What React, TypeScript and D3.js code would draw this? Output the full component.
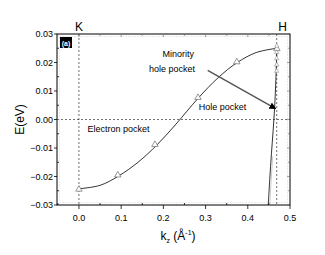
import { useEffect, useRef } from 'react';
import * as d3 from 'd3';

// electron band, measured points (triangles)
const markerK = [0.0, 0.092, 0.18, 0.282, 0.374, 0.469];
const markerE = [-0.0245, -0.0195, -0.0088, 0.0077, 0.0202, 0.0248];

// electron band, fitted curve
const curveK = [0.0, 0.05, 0.093, 0.14, 0.185, 0.23, 0.282, 0.33, 0.374, 0.42, 0.469];
const curveE = [-0.0243, -0.0231, -0.0199, -0.015, -0.0089, -0.0016, 0.0074, 0.0147, 0.0199, 0.0235, 0.025];

// hole pocket band (steep)
const holeK = [0.4485, 0.452, 0.456, 0.46, 0.4635, 0.4665, 0.469];
const holeE = [-0.03, -0.021, -0.012, -0.004, 0.004, 0.014, 0.0255];
const holeK2 = [0.452, 0.455, 0.459];
const holeE2 = [-0.03, -0.022, -0.013];

// hole pocket measured points along H
const holeMarkerE = [0.0258, 0.0236, 0.0214, 0.0192, 0.017];

const xTicks = [0.0, 0.1, 0.2, 0.3, 0.4, 0.5];
const yTicks = [-0.03, -0.02, -0.01, 0.0, 0.01, 0.02, 0.03];
const kK = 0.0;
const kH = 0.4685;

export default function App() {
  const svgRef = useRef<SVGSVGElement>(null);

  useEffect(() => {
    const svg = d3.select(svgRef.current);
    svg.selectAll('*').remove();

    const left = 57, right = 290, top = 34, bottom = 205;
    const x = d3.scaleLinear().domain([-0.052, 0.5]).range([left, right]);
    const y = d3.scaleLinear().domain([-0.03, 0.03]).range([bottom, top]);
    const font = 'Liberation Sans, Arial, sans-serif';

    const defs = svg.append('defs');
    defs.append('clipPath').attr('id', 'plot')
      .append('rect').attr('x', left).attr('y', top)
      .attr('width', right - left).attr('height', bottom - top);
    defs.append('marker')
      .attr('id', 'arrow')
      .attr('viewBox', '0 0 10 10')
      .attr('refX', 9).attr('refY', 5)
      .attr('markerWidth', 5).attr('markerHeight', 5)
      .attr('orient', 'auto')
      .append('path').attr('d', 'M0,0L10,5L0,10z').attr('fill', '#000');

    // inner dotted frame
    svg.append('rect')
      .attr('x', left + 2.5).attr('y', top + 2.5)
      .attr('width', right - left - 5).attr('height', bottom - top - 5)
      .attr('fill', 'none').attr('stroke', '#bbb').attr('stroke-width', 0.6)
      .attr('stroke-dasharray', '1,2');

    // frame
    svg.append('rect')
      .attr('x', left).attr('y', top)
      .attr('width', right - left).attr('height', bottom - top)
      .attr('fill', 'none').attr('stroke', '#000').attr('stroke-width', 1);

    // ticks
    const minorX = d3.range(-0.05, 0.5001, 0.05);
    minorX.forEach(v => {
      const major = xTicks.some(t => Math.abs(t - v) < 1e-6);
      svg.append('line').attr('x1', x(v)).attr('x2', x(v))
        .attr('y1', bottom).attr('y2', major ? bottom + 4 : bottom - 2)
        .attr('stroke', '#000').attr('stroke-width', 0.8);
      svg.append('line').attr('x1', x(v)).attr('x2', x(v))
        .attr('y1', top).attr('y2', top + (major ? 3 : 2))
        .attr('stroke', '#666').attr('stroke-width', 0.6);
    });
    d3.range(-0.03, 0.0301, 0.005).forEach(v => {
      const major = yTicks.some(t => Math.abs(t - v) < 1e-6);
      svg.append('line').attr('y1', y(v)).attr('y2', y(v))
        .attr('x1', left).attr('x2', major ? left - 3 : left + 2)
        .attr('stroke', '#000').attr('stroke-width', 0.8);
      svg.append('line').attr('y1', y(v)).attr('y2', y(v))
        .attr('x1', right).attr('x2', right - (major ? 3 : 2))
        .attr('stroke', '#666').attr('stroke-width', 0.6);
    });

    svg.append('g').selectAll('text')
      .data(xTicks).join('text')
      .attr('x', d => x(d)).attr('y', bottom + 16)
      .attr('text-anchor', 'middle')
      .attr('font-family', font).attr('font-size', 9)
      .text(d => d3.format('.1f')(d));

    svg.append('g').selectAll('text')
      .data(yTicks).join('text')
      .attr('x', left - 4).attr('y', d => y(d) + 3)
      .attr('text-anchor', 'end')
      .attr('font-family', font).attr('font-size', 9)
      .text(d => d3.format('.2f')(d));

    // axis titles
    svg.append('text')
      .attr('transform', `translate(24, ${(top + bottom) / 2}) rotate(-90)`)
      .attr('text-anchor', 'middle')
      .attr('font-family', font).attr('font-size', 12)
      .text('E(eV)');

    const xt = svg.append('text')
      .attr('x', 178).attr('y', 240)
      .attr('text-anchor', 'middle')
      .attr('font-family', font).attr('font-size', 12);
    xt.append('tspan').text('k');
    xt.append('tspan').attr('font-size', 7).attr('dy', 3).text('z');
    xt.append('tspan').attr('dy', -3).text(' (Å');
    xt.append('tspan').attr('font-size', 7).attr('dy', -5).text('-1');
    xt.append('tspan').attr('dy', 5).text(')');

    // K / H labels
    svg.append('text').attr('x', x(kK)).attr('y', 31)
      .attr('text-anchor', 'middle')
      .attr('font-family', font).attr('font-size', 12).text('K');
    svg.append('text').attr('x', x(kH) + 6).attr('y', 31)
      .attr('text-anchor', 'middle')
      .attr('font-family', font).attr('font-size', 12).text('H');

    const plot = svg.append('g').attr('clip-path', 'url(#plot)');

    // reference dashed lines
    plot.append('line')
      .attr('x1', left).attr('x2', right).attr('y1', y(0)).attr('y2', y(0))
      .attr('stroke', '#333').attr('stroke-width', 0.7).attr('stroke-dasharray', '2,2');
    [kK, kH].forEach(k => {
      plot.append('line')
        .attr('x1', x(k)).attr('x2', x(k)).attr('y1', top).attr('y2', bottom)
        .attr('stroke', '#333').attr('stroke-width', 0.7).attr('stroke-dasharray', '2,2');
    });

    const line = d3.line<number>()
      .x((_, i) => x(curveK[i])).y(d => y(d))
      .curve(d3.curveCatmullRom);
    plot.append('path')
      .attr('d', line(curveE))
      .attr('fill', 'none').attr('stroke', '#000').attr('stroke-width', 0.8);

    const holeLine = d3.line<number>()
      .x((_, i) => x(holeK[i])).y(d => y(d))
      .curve(d3.curveCatmullRom);
    plot.append('path')
      .attr('d', holeLine(holeE))
      .attr('fill', 'none').attr('stroke', '#000').attr('stroke-width', 0.8);
    const holeLine2 = d3.line<number>()
      .x((_, i) => x(holeK2[i])).y(d => y(d));
    plot.append('path')
      .attr('d', holeLine2(holeE2))
      .attr('fill', 'none').attr('stroke', '#999').attr('stroke-width', 0.5);

    const tri = d3.symbol().type(d3.symbolTriangle).size(18);
    plot.selectAll('path.mk')
      .data(markerE).join('path')
      .attr('class', 'mk')
      .attr('d', tri)
      .attr('transform', (d, i) => `translate(${x(markerK[i])},${y(d)})`)
      .attr('fill', 'white').attr('stroke', '#555').attr('stroke-width', 0.6);

    plot.selectAll('path.hm')
      .data(holeMarkerE).join('path')
      .attr('class', 'hm')
      .attr('d', d3.symbol().type(d3.symbolTriangle).size(8))
      .attr('transform', d => `translate(${x(kH)},${y(d)})`)
      .attr('fill', 'white').attr('stroke', '#777').attr('stroke-width', 0.5);

    // (a) badge
    svg.append('rect').attr('x', 60).attr('y', 37).attr('width', 12).attr('height', 11)
      .attr('fill', '#000');
    svg.append('text').attr('x', 66).attr('y', 45.5)
      .attr('text-anchor', 'middle')
      .attr('font-family', font).attr('font-size', 7).attr('font-weight', 'bold')
      .attr('fill', '#fff').text('(a)');

    // annotations
    const ann = (t: string, k: number, e: number) =>
      svg.append('text').attr('x', x(k)).attr('y', y(e))
        .attr('font-family', font).attr('font-size', 9).text(t);
    ann('Minority', 0.198, 0.0218);
    ann('hole pocket', 0.166, 0.0168);
    ann('Hole pocket', 0.284, 0.0032);
    ann('Electron pocket', 0.02, -0.0043);

    svg.append('line')
      .attr('x1', x(0.305)).attr('y1', y(0.0172))
      .attr('x2', x(0.466)).attr('y2', y(0.0038))
      .attr('stroke', '#555').attr('stroke-width', 1.4)
      .attr('marker-end', 'url(#arrow)');
  }, []);

  return (
    <svg
      ref={svgRef}
      width={325}
      height={255}
      style={{ position: 'absolute', left: 0, top: 0, background: '#fff' }}
    />
  );
}
